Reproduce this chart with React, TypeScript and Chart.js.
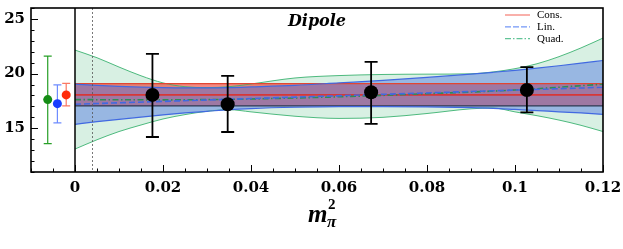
import { useEffect, useRef } from "react";
import { Chart, registerables } from "chart.js";
Chart.register(...registerables);

// ---- data ----
const BAND_X = [0, 0.005, 0.01, 0.015, 0.02, 0.025, 0.03, 0.035, 0.04, 0.05, 0.06, 0.07, 0.08, 0.09, 0.095, 0.1, 0.105, 0.11, 0.115, 0.12];
const QUAD_UPPER = [22.15, 21.45, 20.6, 19.8, 19.15, 18.8, 18.72, 18.8, 19.05, 19.6, 19.82, 19.92, 19.95, 19.98, 20.15, 20.45, 20.9, 21.55, 22.35, 23.25];
const QUAD_LOWER = [13.1, 13.95, 14.7, 15.3, 15.85, 16.25, 16.55, 16.7, 16.5, 16.1, 15.9, 16.0, 16.35, 16.78, 16.85, 16.5, 16.15, 15.75, 15.27, 14.7];
const LIN_UPPER = [19.03, 18.92, 18.83, 18.76, 18.72, 18.7, 18.7, 18.72, 18.78, 18.92, 19.15, 19.38, 19.65, 19.95, 20.12, 20.3, 20.5, 20.72, 20.95, 21.2];
const LIN_LOWER = [15.36, 15.6, 15.82, 16.02, 16.22, 16.4, 16.55, 16.7, 16.8, 16.92, 16.98, 16.98, 16.95, 16.88, 16.82, 16.72, 16.62, 16.5, 16.4, 16.27];

const CONS_X = [0, 0.12];
const CONS_UPPER = [19.08, 19.08];
const CONS_CENTER = [18.05, 18.05];
const CONS_LOWER = [17.04, 17.04];

const LIN_CENTER_X = [0, 0.12];
const LIN_CENTER = [17.2, 18.75];

const QUAD_CENTER_X = [0, 0.02, 0.04, 0.06, 0.08, 0.1, 0.12];
const QUAD_CENTER = [17.62, 17.6, 17.68, 17.88, 18.16, 18.5, 19.03];

const DATA_X = [0.0176, 0.0347, 0.0673, 0.1027];
const DATA_Y = [18.05, 17.2, 18.3, 18.5];
const DATA_LO = [14.2, 14.66, 15.4, 16.45];
const DATA_HI = [21.8, 19.8, 21.07, 20.6];

// extrapolated values (Quad., Lin., Cons.)
const EXTRAP_X = [-0.0062, -0.004, -0.002];
const EXTRAP_Y = [17.62, 17.25, 18.05];
const EXTRAP_LO = [13.6, 15.5, 17.05];
const EXTRAP_HI = [21.6, 18.96, 19.1];

const X_TICKS = [0, 0.02, 0.04, 0.06, 0.08, 0.1, 0.12];
const X_TICK_LABELS = ["0", "0.02", "0.04", "0.06", "0.08", "0.1", "0.12"];
const Y_TICKS = [15, 20, 25];
const Y_TICK_LABELS = ["15", "20", "25"];
const DOTTED_X = 0.0039;
const LEGEND_LABELS = ["Cons.", "Lin.", "Quad."];
const TITLE = "Dipole";

const pts = (xs: number[], ys: number[]) => xs.map((x, i) => ({ x, y: ys[i] }));

const GREEN_EDGE = "rgba(60,179,113,0.9)";
const BLUE_EDGE = "rgb(65,105,225)";

export default function App() {
  const ref = useRef<HTMLCanvasElement>(null);
  useEffect(() => {
    document.body.style.margin = "0";
    const errorBars: Record<number, any> = {
      9: { lo: DATA_LO, hi: DATA_HI, colors: DATA_X.map(() => "#000"), width: 1.8, cap: 6.5 },
      10: { lo: EXTRAP_LO, hi: EXTRAP_HI, colors: ["rgb(40,160,40)", "rgb(110,140,255)", "rgb(250,120,100)"], width: 1.2, cap: 4 },
    };
    const decor = {
      id: "decor",
      beforeDatasetDraw(chart: any, args: any) {
        const eb = errorBars[args.index];
        if (!eb) return;
        const ctx = chart.ctx;
        const xs = chart.scales.x, ys = chart.scales.y;
        const ds = chart.data.datasets[args.index];
        ctx.save();
        ds.data.forEach((p: any, i: number) => {
          const px = xs.getPixelForValue(p.x);
          const lo = ys.getPixelForValue(eb.lo[i]);
          const hi = ys.getPixelForValue(eb.hi[i]);
          ctx.strokeStyle = eb.colors[i];
          ctx.lineWidth = eb.width;
          ctx.beginPath();
          ctx.moveTo(px, lo); ctx.lineTo(px, hi);
          ctx.moveTo(px - eb.cap, lo); ctx.lineTo(px + eb.cap, lo);
          ctx.moveTo(px - eb.cap, hi); ctx.lineTo(px + eb.cap, hi);
          ctx.stroke();
        });
        ctx.restore();
      },
      afterDraw(chart: any) {
        const { ctx, chartArea: a } = chart;
        const xs = chart.scales.x, ys = chart.scales.y;
        const line = (x1: number, y1: number, x2: number, y2: number) => {
          ctx.beginPath(); ctx.moveTo(x1, y1); ctx.lineTo(x2, y2); ctx.stroke();
        };
        ctx.save();
        // dotted vertical
        ctx.strokeStyle = "#555"; ctx.lineWidth = 0.8; ctx.setLineDash([2, 2]);
        const dx = Math.round(xs.getPixelForValue(DOTTED_X)) + 0.5;
        line(dx, a.top, dx, a.bottom);
        ctx.setLineDash([]);
        // zero line
        ctx.strokeStyle = "#000"; ctx.lineWidth = 1.5;
        const zx = xs.getPixelForValue(0);
        line(zx, a.top, zx, a.bottom);
        // ticks
        ctx.lineWidth = 1;
        for (let i = -2; i <= 24; i++) {
          const v = i * 0.005;
          const px = Math.round(xs.getPixelForValue(v)) + 0.5;
          const len = i % 4 === 0 ? 7 : 3.5;
          line(px, a.bottom, px, a.bottom - len);
        }
        for (let v = 11; v <= 26; v++) {
          const py = Math.round(ys.getPixelForValue(v)) + 0.5;
          const len = v % 5 === 0 ? 7 : 3.5;
          line(a.left, py, a.left + len, py);
        }
        // frame
        ctx.lineWidth = 1.6;
        ctx.strokeRect(a.left, a.top, a.right - a.left, a.bottom - a.top);
        // legend
        const legendStyles = [
          { color: "rgba(245,120,110,0.9)", dash: [] as number[] },
          { color: "rgba(100,140,245,0.9)", dash: [6, 2] },
          { color: "rgba(80,190,140,0.9)", dash: [6, 2, 1.5, 2] },
        ];
        ctx.font = '11px "Liberation Serif"';
        ctx.textBaseline = "middle";
        ctx.textAlign = "left";
        LEGEND_LABELS.forEach((lab, i) => {
          const y = a.top + 7 + i * 11.8;
          ctx.strokeStyle = legendStyles[i].color;
          ctx.lineWidth = 1.3;
          ctx.setLineDash(legendStyles[i].dash);
          line(a.right - 98, y, a.right - 73, y);
          ctx.setLineDash([]);
          ctx.fillStyle = "#000";
          ctx.fillText(lab, a.right - 66, y + 0.5);
        });
        // title
        ctx.font = 'italic bold 16px "DejaVu Serif"';
        ctx.textAlign = "center";
        ctx.textBaseline = "alphabetic";
        ctx.fillText(TITLE, (a.left + a.right) / 2, a.top + 18);
        // x-axis label m_pi^2
        const cx = (a.left + a.right) / 2;
        ctx.textAlign = "left";
        ctx.font = 'italic bold 25px "Liberation Serif"';
        ctx.fillText("m", cx - 9, a.bottom + 50);
        ctx.font = 'bold 15px "Liberation Serif"';
        ctx.fillText("2", cx + 11, a.bottom + 37);
        ctx.font = 'italic bold 17px "Liberation Serif"';
        ctx.fillText("π", cx + 10, a.bottom + 55);
        ctx.restore();
      },
    };

    const chart = new Chart(ref.current!, {
      type: "line",
      data: {
        datasets: [
          { data: pts(BAND_X, QUAD_UPPER), borderColor: GREEN_EDGE, borderWidth: 1, order: 10, fill: false },
          { data: pts(BAND_X, QUAD_LOWER), borderColor: GREEN_EDGE, borderWidth: 1, order: 10, fill: "-1", backgroundColor: "rgba(60,179,113,0.2)" },
          { data: pts(CONS_X, CONS_UPPER), borderColor: "rgb(225,70,50)", borderWidth: 1.3, order: 9, fill: false },
          { data: pts(CONS_X, CONS_LOWER), borderColor: "#2e3b55", borderWidth: 1.3, order: 9, fill: "-1", backgroundColor: "rgba(235,40,30,0.55)" },
          { data: pts(BAND_X, LIN_UPPER), borderColor: BLUE_EDGE, borderWidth: 1.2, order: 8, fill: false },
          { data: pts(BAND_X, LIN_LOWER), borderColor: BLUE_EDGE, borderWidth: 1.2, order: 8, fill: "-1", backgroundColor: "rgba(65,105,225,0.42)" },
          { data: pts(CONS_X, CONS_CENTER), borderColor: "rgb(215,55,55)", borderWidth: 1.6, order: 3, fill: false },
          { data: pts(LIN_CENTER_X, LIN_CENTER), borderColor: "rgb(65,105,225)", borderWidth: 1.6, borderDash: [6, 3], order: 2, fill: false },
          { data: pts(QUAD_CENTER_X, QUAD_CENTER), borderColor: "rgb(46,139,87)", borderWidth: 1.6, borderDash: [6, 2.5, 1.5, 2.5], order: 2, fill: false },
          { data: pts(DATA_X, DATA_Y), showLine: false, pointRadius: 7, pointBackgroundColor: "#000", pointBorderWidth: 0, order: 0 },
          { data: pts(EXTRAP_X, EXTRAP_Y), showLine: false, pointRadius: 4.5, pointBackgroundColor: ["rgb(20,140,20)", "rgb(25,60,255)", "rgb(255,45,10)"], pointBorderWidth: 0, order: 0 },
        ] as any,
      },
      options: {
        animation: false,
        responsive: false,
        events: [],
        layout: { padding: { left: 0, right: 20, top: 8, bottom: 0 } },
        elements: {
          point: { radius: 0, hoverRadius: 0 },
          line: { cubicInterpolationMode: "monotone" },
        },
        plugins: {
          legend: { display: false },
          tooltip: { enabled: false },
          title: { display: false },
          filler: { drawTime: "beforeDatasetsDraw" },
        } as any,
        scales: {
          x: {
            type: "linear",
            min: -0.01,
            max: 0.12,
            grid: { display: false, drawTicks: false },
            border: { display: false },
            afterBuildTicks: (s: any) => { s.ticks = X_TICKS.map((v) => ({ value: v })); },
            afterFit: (s: any) => { s.height = 77; s.paddingLeft = 0; s.paddingRight = 0; },
            ticks: {
              autoSkip: false,
              maxRotation: 0,
              padding: 7,
              color: "#000",
              font: { family: "DejaVu Serif", weight: "bold", size: 15 },
              callback: (_v: any, i: number) => X_TICK_LABELS[i],
            },
          },
          y: {
            type: "linear",
            min: 11,
            max: 26,
            grid: { display: false, drawTicks: false },
            border: { display: false },
            afterBuildTicks: (s: any) => { s.ticks = Y_TICKS.map((v) => ({ value: v })); },
            afterFit: (s: any) => { s.width = 31; s.paddingTop = 0; s.paddingBottom = 0; },
            ticks: {
              autoSkip: false,
              padding: 6,
              color: "#000",
              font: { family: "DejaVu Serif", weight: "bold", size: 15 },
              callback: (_v: any, i: number) => Y_TICK_LABELS[i],
            },
          },
        },
      } as any,
      plugins: [decor],
    });
    return () => chart.destroy();
  }, []);
  return (
    <div style={{ width: 623, height: 249 }}>
      <canvas ref={ref} width={623} height={249} style={{ display: "block" }} />
    </div>
  );
}
